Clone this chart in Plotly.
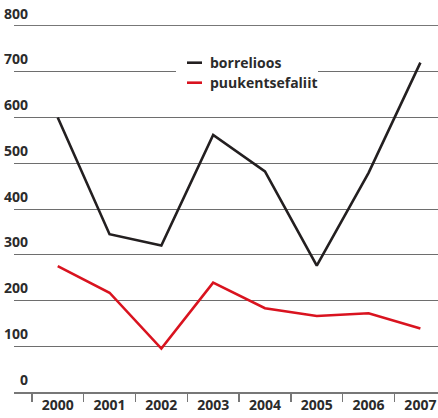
import plotly.graph_objects as go

years = ["2000", "2001", "2002", "2003", "2004", "2005", "2006", "2007"]
borrelioos = [600, 345, 320, 562, 482, 276, 479, 720]
puukentsefaliit = [275, 217, 95, 239, 183, 166, 172, 139]
y_ticks = [0, 100, 200, 300, 400, 500, 600, 700, 800]
series_names = ["borrelioos", "puukentsefaliit"]
series_colors = ["#231f20", "#d9131f"]

FONT = "Open Sans"
TXT = "#2b2b2b"
FS = 14
GRID = "#6e6e6e"

W, H = 438, 418
ML, MR, MT, MB = 14, 0, 26, 26
PW, PH = W - ML - MR, H - MT - MB

def px_x(px):
    return (px - ML) / PW

def px_y(py):
    return (H - MB - py) / PH

fig = go.Figure()
for name, vals, col in zip(series_names, [borrelioos, puukentsefaliit], series_colors):
    fig.add_trace(go.Scatter(x=years, y=vals, mode="lines", name=name,
                             line=dict(color=col, width=2.6), showlegend=False,
                             cliponaxis=False))

annotations = []
for v in y_ticks:
    annotations.append(dict(x=px_x(30), xref="paper", y=v, yref="y", text=str(v),
                            xanchor="right", yanchor="middle", yshift=13, showarrow=False,
                            font=dict(family=FONT, size=FS, color=TXT, weight="bold")))

shapes = [dict(type="rect", xref="paper", yref="paper", x0=px_x(176), x1=px_x(318),
               y0=px_y(96), y1=px_y(50), fillcolor="white", line=dict(width=0), layer="above")]
leg_y = [62.7, 82.7]
for name, col, ly in zip(series_names, series_colors, leg_y):
    shapes.append(dict(type="line", xref="paper", yref="paper", x0=px_x(187), x1=px_x(202),
                       y0=px_y(ly), y1=px_y(ly), line=dict(color=col, width=2.6), layer="above"))
    annotations.append(dict(x=px_x(208), xref="paper", y=px_y(ly), yref="paper", text=name,
                            xanchor="left", yanchor="middle", showarrow=False,
                            font=dict(family=FONT, size=FS, color=TXT, weight="bold")))

fig.update_layout(
    width=W, height=H,
    margin=dict(l=ML, r=MR, t=MT, b=MB, pad=0),
    paper_bgcolor="white", plot_bgcolor="white",
    showlegend=False,
    xaxis=dict(type="category", range=[-0.844, 7.34], showgrid=False, zeroline=False,
               showline=True, mirror=True, linecolor="#777777", linewidth=1.5, automargin=False,
               ticks="outside", tickson="boundaries", ticklen=8, tickcolor="#777777", tickwidth=1.5,
               tickfont=dict(family=FONT, size=FS, color=TXT, weight="bold")),
    yaxis=dict(range=[0, y_ticks[-1]], tickvals=y_ticks, showticklabels=False, showgrid=True,
               gridcolor=GRID, gridwidth=1, zeroline=False, showline=False, ticks="",
               automargin=False),
    annotations=annotations,
    shapes=shapes,
)

fig.write_html("out.html", config={"displayModeBar": False, "staticPlot": True},
               post_script="document.body.style.margin='0';document.body.style.overflow='hidden';")
